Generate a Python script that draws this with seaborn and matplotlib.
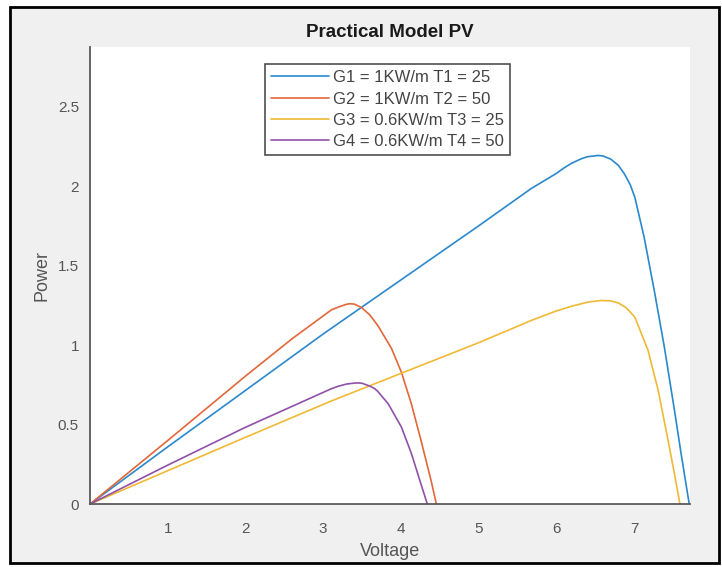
import numpy as np
import pandas as pd
import matplotlib
matplotlib.use('Agg')
import matplotlib.pyplot as plt
import seaborn as sns
from matplotlib.patches import Rectangle

# values
v1 = [0, 1, 2, 3, 4, 5, 5.677, 6.0, 6.1, 6.2, 6.32, 6.4, 6.535, 6.6, 6.7, 6.8, 6.877, 6.95, 7.01, 7.13, 7.26, 7.39, 7.52, 7.605, 7.71]
p1 = [0, 0.36, 0.715, 1.07, 1.41, 1.75, 1.985, 2.08, 2.115, 2.145, 2.172, 2.185, 2.193, 2.19, 2.17, 2.13, 2.076, 2.01, 1.93, 1.678, 1.343, 0.987, 0.59, 0.318, 0]

v2 = [0, 1, 2, 2.6, 3.107, 3.2, 3.3, 3.345, 3.4, 3.5, 3.535, 3.6, 3.707, 3.878, 4.006, 4.135, 4.264, 4.392, 4.456]
p2 = [0, 0.40, 0.805, 1.04, 1.222, 1.24, 1.257, 1.26, 1.258, 1.235, 1.218, 1.19, 1.12, 0.98, 0.83, 0.63, 0.39, 0.14, 0]

v3 = [0, 1, 2, 3.107, 4, 5, 5.677, 6.0, 6.2, 6.32, 6.4, 6.577, 6.7, 6.8, 6.9, 7.01, 7.18, 7.31, 7.43, 7.52, 7.59]
p3 = [0, 0.21, 0.42, 0.649, 0.822, 1.015, 1.155, 1.215, 1.245, 1.26, 1.27, 1.281, 1.278, 1.265, 1.235, 1.176, 0.967, 0.716, 0.42, 0.19, 0]

v4 = [0, 1, 2, 3.107, 3.2, 3.3, 3.4, 3.45, 3.5, 3.6, 3.663, 3.7, 3.835, 4.006, 4.135, 4.242, 4.34]
p4 = [0, 0.245, 0.483, 0.726, 0.742, 0.755, 0.761, 0.762, 0.76, 0.742, 0.726, 0.71, 0.632, 0.485, 0.318, 0.151, 0]

names = ['G1 = 1KW/m T1 = 25', 'G2 = 1KW/m T2 = 50',
         'G3 = 0.6KW/m T3 = 25', 'G4 = 0.6KW/m T4 = 50']
colors = ['#2a88cc', '#e2673a', '#efb935', '#9150a8']

frames = []
for n, v, p in zip(names, [v1, v2, v3, v4], [p1, p2, p3, p4]):
    frames.append(pd.DataFrame({'Voltage': v, 'Power': p, 'curve': n}))
df = pd.concat(frames, ignore_index=True)

sns.set_style('white')
plt.rcParams['font.family'] = ['Liberation Sans', 'DejaVu Sans']

fig = plt.figure(figsize=(7.22, 5.67), dpi=100, facecolor='white')
fig.patches.append(Rectangle((0.014, 0.007), 0.982, 0.98, transform=fig.transFigure,
                             facecolor='#f0f0f0', edgecolor='black', linewidth=2, zorder=-10))
ax = fig.add_axes([0.1247, 0.111, 0.831, 0.806])
ax.set_facecolor('white')

sns.lineplot(data=df, x='Voltage', y='Power', hue='curve', palette=colors,
             sort=False, estimator=None, linewidth=1.2, ax=ax)

ax.set_xlim(0, 7.72)
ax.set_ylim(0, 2.875)
ax.set_xticks([1, 2, 3, 4, 5, 6, 7])
ax.set_yticks([0, 0.5, 1, 1.5, 2, 2.5])
ax.set_yticklabels(['0', '0.5', '1', '1.5', '2', '2.5'])
for s in ['top', 'right']:
    ax.spines[s].set_visible(False)
for s in ['left', 'bottom']:
    ax.spines[s].set_color('#5a5a5a')
    ax.spines[s].set_linewidth(1.3)
ax.tick_params(axis='both', direction='in', length=5, width=1, color='#333333',
               labelsize=11, labelcolor='#555555')
ax.tick_params(axis='x', pad=13)
ax.tick_params(axis='y', pad=8)
ax.set_xlabel('Voltage', fontsize=13, color='#555555', labelpad=5)
ax.set_ylabel('Power', fontsize=13, color='#555555', labelpad=5)
ax.set_title('Practical Model PV', fontsize=13.5, fontweight='bold', color='#1a1a1a', pad=7)

leg = ax.legend(loc='upper center', bbox_to_anchor=(0.496, 0.962), fontsize=12,
                frameon=True, fancybox=False, edgecolor='#222222', handlelength=3.5,
                handletextpad=0.25, borderpad=0.35, labelspacing=0.38, borderaxespad=0)
leg.get_frame().set_linewidth(1.2)
for t in leg.get_texts():
    t.set_color('#444444')

fig.savefig('out.png', dpi=100, facecolor=fig.get_facecolor())
